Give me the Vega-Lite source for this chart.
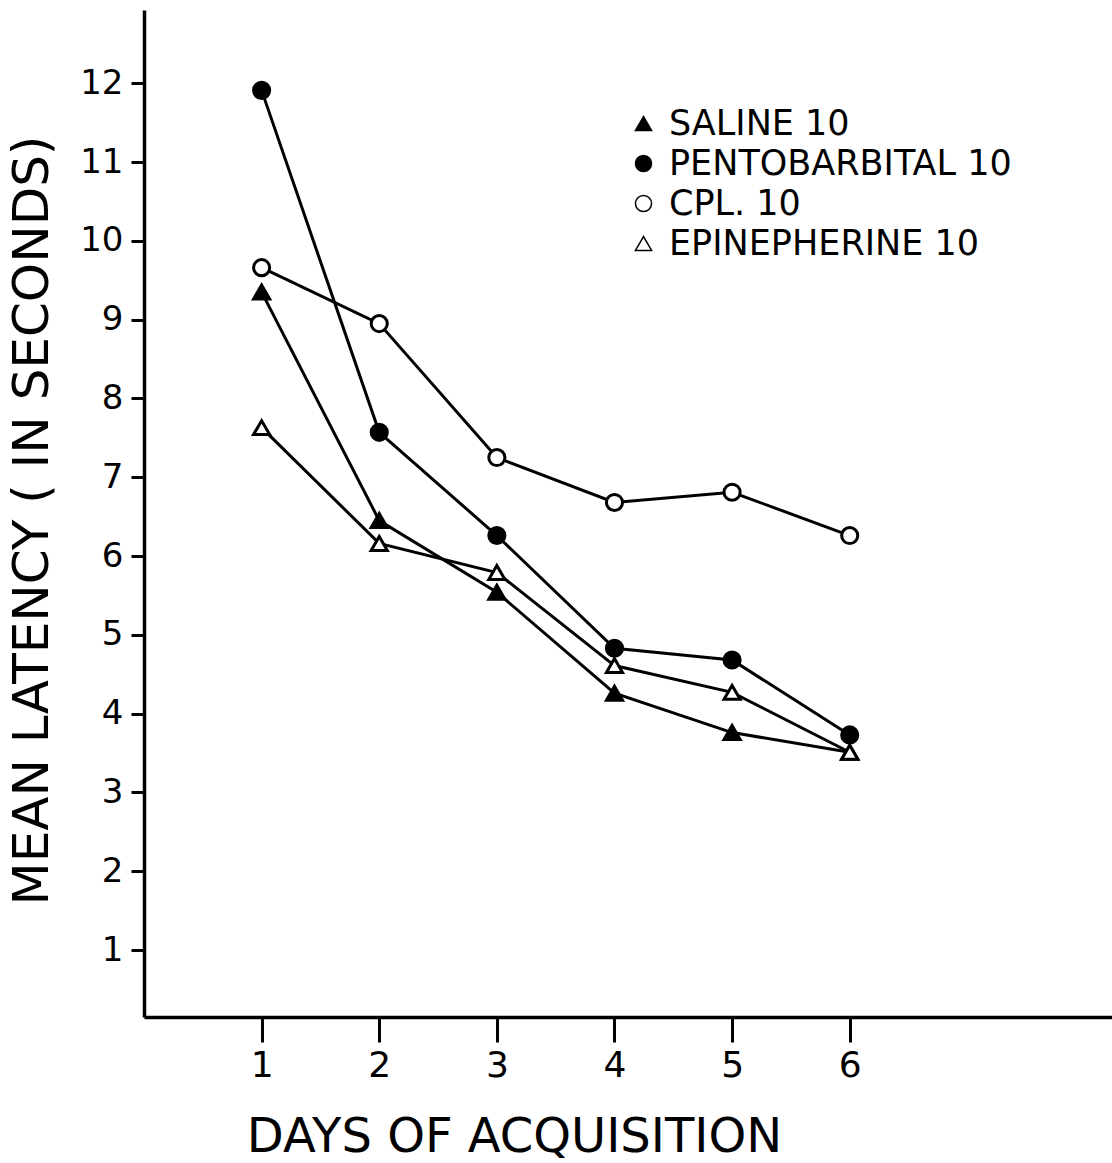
{
  "$schema": "https://vega.github.io/schema/vega-lite/v6.json",
  "width": 968,
  "height": 1007,
  "autosize": {"type": "none"},
  "padding": {"left": 144, "top": 10, "right": 0, "bottom": 146},
  "background": "white",
  "config": {
    "view": {"stroke": null},
    "font": "DejaVu Sans",
    "axis": {"grid": false, "domainColor": "black", "tickColor": "black", "labelColor": "black", "titleColor": "black", "labelFont": "DejaVu Sans", "titleFont": "DejaVu Sans", "titleFontWeight": "normal"}
  },
  "data": {
    "values": [
      {"day": 1, "latency": 9.35, "series": "SALINE  10"},
      {"day": 2, "latency": 6.45, "series": "SALINE  10"},
      {"day": 3, "latency": 5.54, "series": "SALINE  10"},
      {"day": 4, "latency": 4.26, "series": "SALINE  10"},
      {"day": 5, "latency": 3.76, "series": "SALINE  10"},
      {"day": 6, "latency": 3.51, "series": "SALINE  10"},
      {"day": 1, "latency": 11.91, "series": "PENTOBARBITAL 10"},
      {"day": 2, "latency": 7.57, "series": "PENTOBARBITAL 10"},
      {"day": 3, "latency": 6.26, "series": "PENTOBARBITAL 10"},
      {"day": 4, "latency": 4.83, "series": "PENTOBARBITAL 10"},
      {"day": 5, "latency": 4.68, "series": "PENTOBARBITAL 10"},
      {"day": 6, "latency": 3.73, "series": "PENTOBARBITAL 10"},
      {"day": 1, "latency": 9.66, "series": "CPL. 10"},
      {"day": 2, "latency": 8.95, "series": "CPL. 10"},
      {"day": 3, "latency": 7.25, "series": "CPL. 10"},
      {"day": 4, "latency": 6.68, "series": "CPL. 10"},
      {"day": 5, "latency": 6.81, "series": "CPL. 10"},
      {"day": 6, "latency": 6.26, "series": "CPL. 10"},
      {"day": 1, "latency": 7.63, "series": "EPINEPHERINE 10"},
      {"day": 2, "latency": 6.16, "series": "EPINEPHERINE 10"},
      {"day": 3, "latency": 5.79, "series": "EPINEPHERINE 10"},
      {"day": 4, "latency": 4.61, "series": "EPINEPHERINE 10"},
      {"day": 5, "latency": 4.27, "series": "EPINEPHERINE 10"},
      {"day": 6, "latency": 3.51, "series": "EPINEPHERINE 10"}
    ]
  },
  "encoding": {
    "x": {
      "field": "day", "type": "quantitative",
      "scale": {"domain": [0, 8.23], "nice": false, "zero": false},
      "axis": {
        "values": [1, 2, 3, 4, 5, 6], "format": "d",
        "title": "DAYS OF ACQUISITION",
        "domainWidth": 3.5, "tickWidth": 3, "tickSize": 25,
        "labelFontSize": 36, "labelPadding": 6,
        "titleFontSize": 48, "titleX": 370, "titleY": 134, "titleBaseline": "alphabetic", "titleAnchor": null, "titleAlign": "center"
      }
    },
    "y": {
      "field": "latency", "type": "quantitative",
      "scale": {"domain": [0.15, 12.93], "nice": false, "zero": false},
      "axis": {
        "values": [1, 2, 3, 4, 5, 6, 7, 8, 9, 10, 11, 12], "format": "d",
        "title": "MEAN LATENCY ( IN SECONDS)",
        "domainWidth": 3.5, "tickWidth": 3, "tickSize": 13,
        "labelFontSize": 34, "labelPadding": 8,
        "titleFontSize": 50, "titleX": -112, "titleY": 510, "titleAngle": -90, "titleBaseline": "middle", "titleAlign": "center", "titleAnchor": null
      }
    }
  },
  "layer": [
    {
      "mark": {"type": "line", "color": "black", "strokeWidth": 3},
      "encoding": {"detail": {"field": "series"}}
    },
    {
      "mark": {"type": "point", "filled": true, "stroke": "black", "strokeWidth": 3, "size": 260, "opacity": 1},
      "encoding": {
        "shape": {
          "field": "series", "type": "nominal",
          "scale": {"domain": ["SALINE  10", "PENTOBARBITAL 10", "CPL. 10", "EPINEPHERINE 10"], "range": ["triangle-up", "circle", "circle", "triangle-up"]},
          "legend": {"title": null, "orient": "none", "legendX": 482, "legendY": 96, "padding": 0, "labelFontSize": 35, "labelFont": "DejaVu Sans", "labelColor": "black", "labelOffset": 8, "symbolSize": 260, "rowPadding": 4, "labelLimit": 600,
            "encode": {"symbols": {"update": {"stroke": {"value": "black"}, "strokeWidth": {"value": 2.5}, "opacity": {"value": 1}}}}}
        },
        "fill": {
          "field": "series", "type": "nominal",
          "scale": {"domain": ["SALINE  10", "PENTOBARBITAL 10", "CPL. 10", "EPINEPHERINE 10"], "range": ["black", "black", "white", "white"]},
          "legend": {"title": null, "orient": "none", "legendX": 482, "legendY": 96, "padding": 0, "labelFontSize": 35, "labelFont": "DejaVu Sans", "labelColor": "black", "labelOffset": 8, "symbolSize": 260, "rowPadding": 4, "labelLimit": 600,
            "encode": {"symbols": {"update": {"stroke": {"value": "black"}, "strokeWidth": {"value": 2.5}, "opacity": {"value": 1}}}}}
        }
      }
    }
  ]
}
